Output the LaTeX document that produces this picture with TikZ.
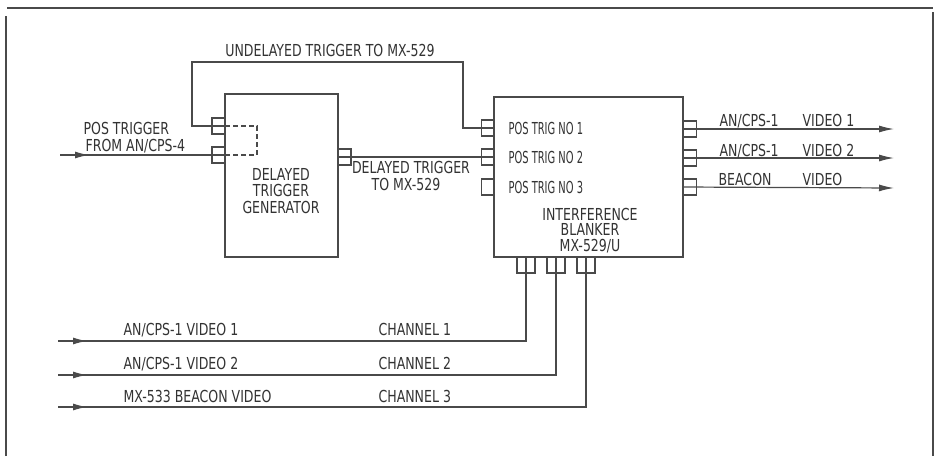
\documentclass[tikz,border=0pt]{standalone}
\usepackage{fontspec}
\newfontfamily\lf{DejaVu Sans}[FakeStretch=0.76]
\newfontfamily\lfn{DejaVu Sans}[FakeStretch=0.6]
\usetikzlibrary{arrows.meta,decorations.markings}
\definecolor{ink}{HTML}{4A4A4A}
\definecolor{txt}{HTML}{333333}
\begin{document}
\begin{tikzpicture}[x=1pt,y=-1pt,color=ink,line width=1.2pt,
  lbl/.style={font=\lf\fontsize{16.5}{18}\selectfont, text=txt, inner sep=0pt, text height=12pt, text depth=0pt},
  lbln/.style={lbl, font=\lfn\fontsize{16.5}{18}\selectfont},
  unit/.style={draw, rectangle, inner sep=0pt, outer sep=0pt},
  port/.style={draw, rectangle, inner sep=0pt, outer sep=0pt, minimum width=13pt, minimum height=16pt},
  bport/.style={port, minimum width=18pt},
  midarrow/.style={postaction={decorate}, decoration={markings, mark=at position 29pt with {\arrow{Latex[length=14pt,width=7pt]}}}},
  endarrow/.style={-{Latex[length=15pt,width=7pt]}}]
\useasboundingbox (0,0) rectangle (935,456);
\fill[white] (0,0) rectangle (935,456);
% frame
\draw (6,456) -- (6,16);
\draw (7,8) -- (933,8);
\draw (933,12) -- (933,456);
% units
\node[unit, minimum width=113pt, minimum height=163pt] (dtg) at (281.5,175.5) {};
\node[unit, minimum width=189pt, minimum height=160pt] (ib) at (588.5,177) {};
% ports
\node[port] (dp1) at (218.5,126) {};
\node[port] (dp2) at (218.5,155) {};
\node[port] (dpo) at (344.5,157) {};
\node[port] (ip1) at (488,128) {};
\node[port] (ip2) at (488,157) {};
\node[port] (ip3) at (488,187) {};
\node[port] (op1) at (690,129) {};
\node[port] (op2) at (690,158) {};
\node[port] (op3) at (690,187) {};
\node[bport] (bp1) at (526,265) {};
\node[bport] (bp2) at (556,265) {};
\node[bport] (bp3) at (586,265) {};
% free ends
\coordinate (u1) at (192,62);
\coordinate (u2) at (463,62);
\coordinate (pin) at (60,155);
\coordinate (o1) at (894,129);
\coordinate (o2) at (894,158);
\coordinate (o3) at (894,188);
\coordinate (c1) at (58,341);
\coordinate (c2) at (58,375);
\coordinate (c3) at (58,407);
% wires
\draw (dp1.east) -| (u1) -- (u2) |- (ip1.east);
\draw[dashed, dash pattern=on 5pt off 3pt] (dp1.east) -- ++(32,0) |- (dp2.east);
\draw[midarrow] (pin) -- (dp2.east);
\draw (dpo.west) -- (ip2.east);
\draw[endarrow] (op1.west) -- (o1);
\draw[endarrow] (op2.west) -- (o2);
\draw[endarrow] (op3.west) -- (o3);
\draw[midarrow] (c1) -| (bp1.north);
\draw[midarrow] (c2) -| (bp2.north);
\draw[midarrow] (c3) -| (bp3.north);
% labels
\node[lbl] (tund) at (330,50) {UNDELAYED TRIGGER TO MX-529};
\node[lbl, anchor=west] (tpos1) at (83,128) {POS TRIGGER};
\node[lbl, anchor=west] (tpos2) at (85,145) {FROM AN/CPS-4};
\node[lbl] (tg1) at (281,174) {DELAYED};
\node[lbl] (tg2) at (281,190.5) {TRIGGER};
\node[lbl] (tg3) at (281,207) {GENERATOR};
\node[lbl] (td1) at (411,167) {DELAYED TRIGGER};
\node[lbl] (td2) at (406,184) {TO MX-529};
\node[lbln, anchor=west] (tp1) at (508,128) {POS TRIG NO 1};
\node[lbln, anchor=west] (tp2) at (508,157) {POS TRIG NO 2};
\node[lbln, anchor=west] (tp3) at (508,187) {POS TRIG NO 3};
\node[lbl] (ti1) at (590,214) {INTERFERENCE};
\node[lbl] (ti2) at (590,229.5) {BLANKER};
\node[lbl] (ti3) at (590,245) {MX-529/U};
\node[lbl, anchor=west] (to1a) at (719,120) {AN/CPS-1};
\node[lbl, anchor=west] (to1b) at (802,120) {VIDEO 1};
\node[lbl, anchor=west] (to2a) at (719,150) {AN/CPS-1};
\node[lbl, anchor=west] (to2b) at (802,150) {VIDEO 2};
\node[lbl, anchor=west] (to3a) at (718,179) {BEACON};
\node[lbl, anchor=west] (to3b) at (802,179) {VIDEO};
\node[lbl, anchor=west] (tc1) at (123,329) {AN/CPS-1 VIDEO 1};
\node[lbl, anchor=west] (tc2) at (123,363) {AN/CPS-1 VIDEO 2};
\node[lbl, anchor=west] (tc3) at (123,396) {MX-533 BEACON VIDEO};
\node[lbl, anchor=west] (tch1) at (378,329) {CHANNEL 1};
\node[lbl, anchor=west] (tch2) at (378,363) {CHANNEL 2};
\node[lbl, anchor=west] (tch3) at (378,396) {CHANNEL 3};
\end{tikzpicture}
\end{document}
